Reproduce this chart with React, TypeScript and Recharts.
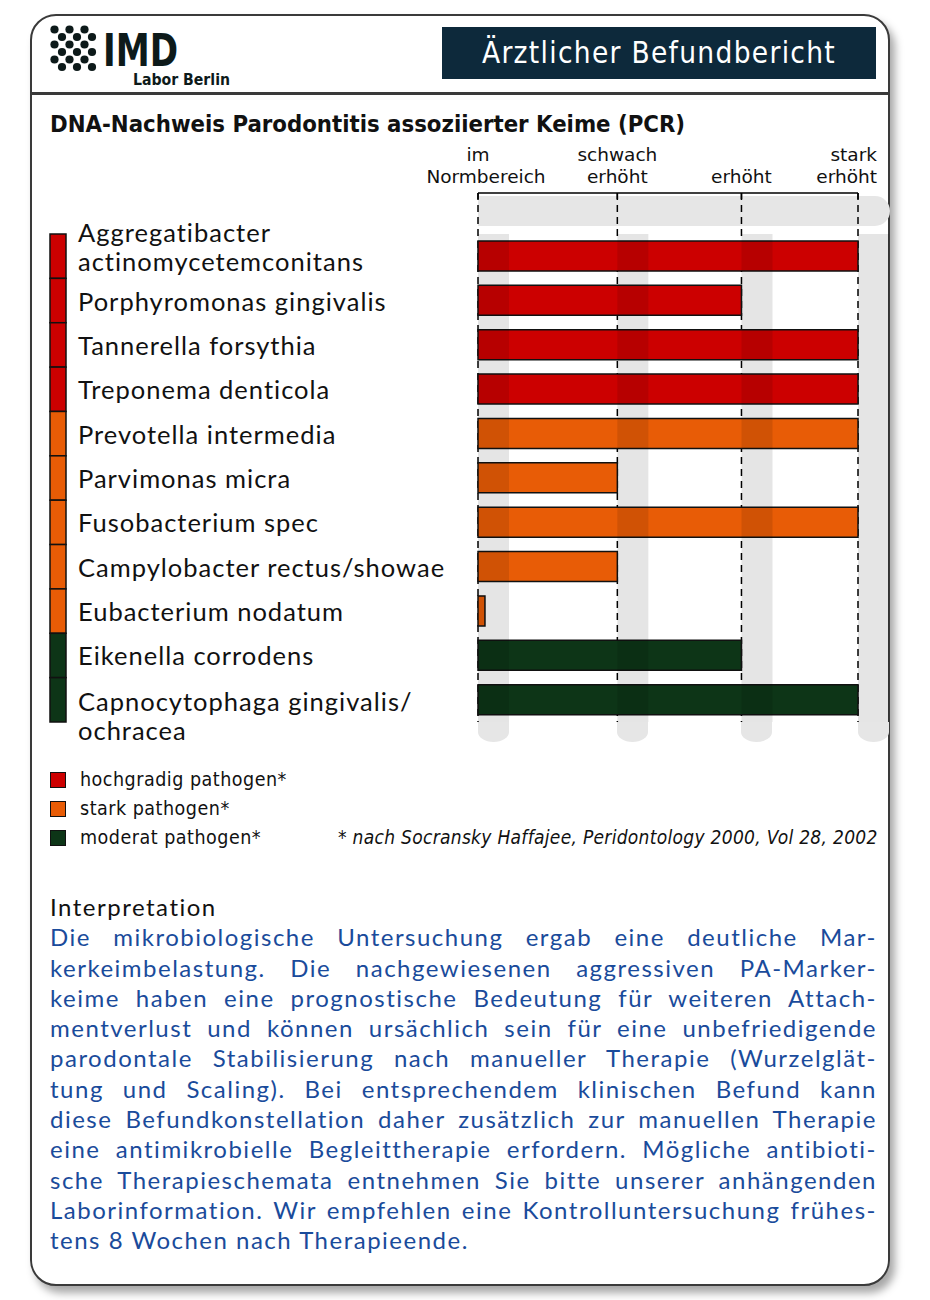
import React from 'react';
import { BarChart, Bar, XAxis, YAxis, CartesianGrid, Cell, ReferenceArea } from 'recharts';

// levels on the top axis (scores where the dashed lines sit)
const LEVEL_TICKS = [0, 1.1, 2.08, 3];
const LEVEL_LABELS = [['im', 'Normbereich'], ['schwach', 'erhöht'], ['', 'erhöht'], ['stark', 'erhöht']];

const SPECIES = [
  'Aggregatibacter\nactinomycetemconitans',
  'Porphyromonas gingivalis',
  'Tannerella forsythia',
  'Treponema denticola',
  'Prevotella intermedia',
  'Parvimonas micra',
  'Fusobacterium spec',
  'Campylobacter rectus/showae',
  'Eubacterium nodatum',
  'Eikenella corrodens',
  'Capnocytophaga gingivalis/\nochracea',
];
const SPECIES_GROUP = [0, 0, 0, 0, 1, 1, 1, 1, 1, 2, 2];
const SPECIES_LEVEL = [3, 2.08, 3, 3, 3, 1.1, 3, 1.1, 0.055, 2.08, 3];

const GROUP_NAMES = ['hochgradig pathogen*', 'stark pathogen*', 'moderat pathogen*'];
const GROUP_COLORS = ['#cc0000', '#e85c06', '#0d3517'];

const INTERPRETATION = [
  'Die mikrobiologische Untersuchung ergab eine deutliche Mar-',
  'kerkeimbelastung. Die nachgewiesenen aggressiven PA-Marker-',
  'keime haben eine prognostische Bedeutung für weiteren Attach-',
  'mentverlust und können ursächlich sein für eine unbefriedigende',
  'parodontale Stabilisierung nach manueller Therapie (Wurzelglät-',
  'tung und Scaling). Bei entsprechendem klinischen Befund kann',
  'diese Befundkonstellation daher zusätzlich zur manuellen Therapie',
  'eine antimikrobielle Begleittherapie erfordern. Mögliche antibioti-',
  'sche Therapieschemata entnehmen Sie bitte unserer anhängenden',
  'Laborinformation. Wir empfehlen eine Kontrolluntersuchung frühes-',
  'tens 8 Wochen nach Therapieende.',
];

const data = SPECIES.map((name, i) => ({ name, value: SPECIES_LEVEL[i], group: SPECIES_GROUP[i] }));

// layout
const CHART_LEFT = 40;
const CHART_TOP = 140;
const AXIS_H = 53;
const Y_AXIS_W = 438;
const PLOT_W = 380;
const PAD_TOP = 41;
const PLOT_H = 529;
const BAND = (PLOT_H - PAD_TOP) / SPECIES.length;
const LABEL_FONT = 'Lato, "Open Sans", sans-serif';
const COND_FONT = '"DejaVu Sans Condensed", "Liberation Sans Narrow", sans-serif';

const tickPx = (v: number) => CHART_LEFT + Y_AXIS_W + (v / 3) * PLOT_W;

const LevelTick = (props: any) => {
  const { x, index } = props;
  const lines = LEVEL_LABELS[index] || ['', ''];
  const last = index === LEVEL_LABELS.length - 1;
  const tx = last ? x + 19 : x;
  const anchor = last ? 'end' : 'middle';
  return (
    <text y={AXIS_H - 32} textAnchor={anchor} fontFamily='"DejaVu Sans", sans-serif' fontSize={18.5} fill="#111">
      <tspan x={tx}>{lines[0]}</tspan>
      <tspan x={index === 0 ? tx + 8 : tx} dy={21.5}>
        {lines[1]}
      </tspan>
    </text>
  );
};

const SpeciesTick = (props: any) => {
  const { y, payload, index } = props;
  const lines = String(payload.value).split('\n');
  const g = SPECIES_GROUP[index] ?? 0;
  const firstDy = lines.length > 1 ? (index === 0 ? -24 : 1) : 0;
  return (
    <g>
      <rect x={10} y={y - BAND / 2} width={16} height={BAND} fill={GROUP_COLORS[g]} stroke="#111" strokeWidth={1.5} />
      <text x={38} y={y} fontFamily={LABEL_FONT} fontSize={25.5} letterSpacing={1} fill="#111" dominantBaseline="central">
        {lines.map((l, i) => (
          <tspan key={i} x={38} dy={i === 0 ? firstDy : 29}>
            {l}
          </tspan>
        ))}
      </text>
    </g>
  );
};

const LOGO_ROWS = [29.5, 37, 44.5, 52, 59.5, 67];

export default function App() {
  return (
    <div style={{ position: 'absolute', left: 0, top: 0, width: 930, height: 1300, background: '#fff', overflow: 'hidden' }}>
      {/* card */}
      <div
        style={{
          position: 'absolute', left: 30, top: 14, width: 860, height: 1272, boxSizing: 'border-box',
          border: '2.5px solid #3a3a3a', borderRadius: 26, boxShadow: '5px 7px 8px rgba(0,0,0,0.35)', background: '#fff',
        }}
      />
      <div style={{ position: 'absolute', left: 31, top: 92, width: 858, height: 2.5, background: '#3a3a3a' }} />

      {/* logo */}
      <svg style={{ position: 'absolute', left: 0, top: 0 }} width={300} height={95}>
        {LOGO_ROWS.map((cy, r) =>
          [0, 1, 2].map((c) => (
            <circle key={`${r}-${c}`} cx={(r % 2 === 0 ? 54.5 : 62) + c * 15} cy={cy} r={4.1} fill="#0d1a1a" />
          ))
        )}
        <text fontFamily={COND_FONT} fontWeight={700} fill="#0d1a1a">
          <tspan x={103} y={66} fontSize={44} textLength={75} lengthAdjust="spacingAndGlyphs">
            IMD
          </tspan>
          <tspan x={133} y={85} fontSize={16} textLength={97} lengthAdjust="spacingAndGlyphs">
            Labor Berlin
          </tspan>
        </text>
      </svg>

      {/* title box */}
      <div
        style={{
          position: 'absolute', left: 442, top: 27, width: 434, height: 52, background: '#0d293b', color: '#fff',
          display: 'flex', alignItems: 'center', justifyContent: 'center', fontFamily: COND_FONT, fontSize: 29.5, letterSpacing: 1.3,
        }}
      >
        Ärztlicher Befundbericht
      </div>

      <div
        style={{
          position: 'absolute', left: 50, top: 110, fontFamily: COND_FONT, fontWeight: 700, fontSize: 23.7, lineHeight: '28px', color: '#111',
        }}
      >
        DNA-Nachweis Parodontitis assoziierter Keime (PCR)
      </div>

      {/* shadow band behind the chart */}
      <div style={{ position: 'absolute', left: tickPx(0), top: 196, width: 412, height: 30, background: '#e6e6e6', borderRadius: '0 15px 15px 0' }} />
      {LEVEL_TICKS.map((v) => (
        <div
          key={v}
          style={{ position: 'absolute', left: tickPx(v), top: CHART_TOP + AXIS_H + PLOT_H, width: 31, height: 20, background: '#e6e6e6', borderRadius: '0 0 50% 50%' }}
        />
      ))}

      <div style={{ position: 'absolute', left: CHART_LEFT, top: CHART_TOP }}>
        <BarChart
          width={860}
          height={605}
          layout="vertical"
          data={data}
          margin={{ top: 0, right: 42, bottom: 23, left: 0 }}
        >
          <CartesianGrid horizontal={false} vertical strokeDasharray="7 5" stroke="#000" strokeWidth={1.5} />
          <XAxis
            type="number"
            orientation="top"
            domain={[0, 3]}
            ticks={LEVEL_TICKS}
            height={AXIS_H}
            tickSize={-6}
            axisLine={{ stroke: '#000', strokeWidth: 1.5 }}
            tickLine={{ stroke: '#000', strokeWidth: 1.5 }}
            tick={<LevelTick />}
            interval={0}
          />
          <YAxis
            type="category"
            dataKey="name"
            width={Y_AXIS_W}
            axisLine={false}
            tickLine={false}
            interval={0}
            padding={{ top: PAD_TOP, bottom: 0 }}
            tick={<SpeciesTick />}
          />
          <Bar dataKey="value" barSize={30} stroke="#111" strokeWidth={1.5} isAnimationActive={false}>
            {data.map((d, i) => (
              <Cell key={i} fill={GROUP_COLORS[d.group]} />
            ))}
          </Bar>
          {LEVEL_TICKS.map((v) => (
            <ReferenceArea key={v} x1={v} x2={v + 0.245} fill="#000" fillOpacity={0.1} stroke="none" ifOverflow="visible" zIndex={1000} />
          ))}
        </BarChart>
      </div>

      {/* legend */}
      <div style={{ position: 'absolute', left: 50, top: 765, fontFamily: COND_FONT, fontSize: 19.5, letterSpacing: 0.5, color: '#111' }}>
        {GROUP_NAMES.map((n, i) => (
          <div key={n} style={{ display: 'flex', alignItems: 'center', height: 29 }}>
            <div style={{ width: 16, height: 16, boxSizing: 'border-box', border: '1.5px solid #111', background: GROUP_COLORS[i], marginRight: 14 }} />
            {n}
          </div>
        ))}
      </div>
      <div style={{ position: 'absolute', left: 338, top: 825, fontFamily: COND_FONT, fontStyle: 'italic', fontSize: 19, letterSpacing: 0.3, color: '#111', lineHeight: '24px' }}>
        * nach Socransky Haffajee, Peridontology 2000, Vol 28, 2002
      </div>

      {/* interpretation */}
      <div style={{ position: 'absolute', left: 50, top: 892, width: 827, fontFamily: LABEL_FONT, fontSize: 24, letterSpacing: 1.5, lineHeight: '30.3px' }}>
        <div style={{ color: '#111' }}>Interpretation</div>
        {INTERPRETATION.map((line, i) => (
          <div
            key={i}
            style={{ color: '#1a4b9b', textAlign: 'justify', textAlignLast: i === INTERPRETATION.length - 1 ? 'left' : 'justify' }}
          >
            {line}
          </div>
        ))}
      </div>
    </div>
  );
}
